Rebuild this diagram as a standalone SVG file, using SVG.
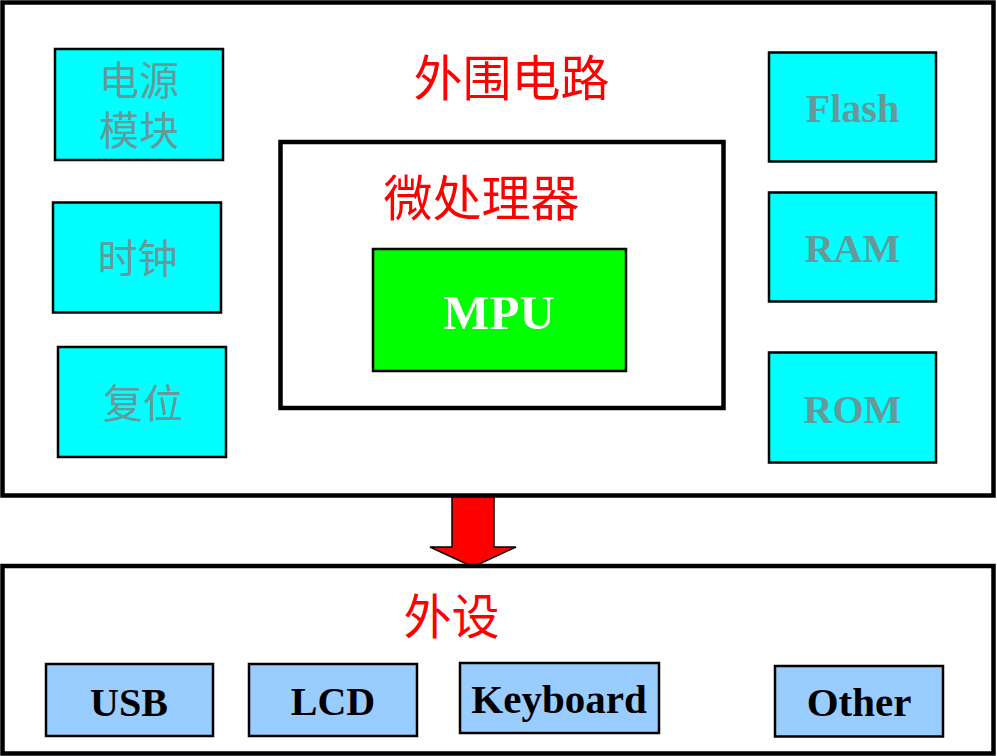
<svg xmlns="http://www.w3.org/2000/svg" width="997" height="756" viewBox="0 0 997 756">
<style>
.frame{fill:#fff;stroke:#000;stroke-width:4.5}
.cyan{fill:#00FFFF;stroke:#000;stroke-width:2.5}
.blue{fill:#99CCFF;stroke:#000;stroke-width:2.5}
.cn{font-family:"Noto Sans CJK SC","Noto Sans CJK JP",sans-serif;text-anchor:middle}
.gray{fill:#669999}
.red{fill:#FF0000}
.en{font-family:"Liberation Serif","Times New Roman",serif;font-weight:bold;text-anchor:middle}
</style>
<rect width="997" height="756" fill="#fff"/>
<g id="peripheral-circuit">
<rect class="frame" x="2.5" y="2.5" width="991" height="493"/>
<text class="cn red" x="511.5" y="96" font-size="49">外围电路</text>
</g>
<g id="power">
<rect class="cyan" x="55" y="49" width="168" height="111"/>
<text class="cn gray" font-size="40"><tspan x="139" y="95">电源</tspan><tspan x="139" y="145">模块</tspan></text>
</g>
<g id="clock">
<rect class="cyan" x="53" y="202.5" width="168" height="110"/>
<text class="cn gray" x="137.5" y="273" font-size="40">时钟</text>
</g>
<g id="reset">
<rect class="cyan" x="58" y="347" width="168" height="110"/>
<text class="cn gray" x="143" y="418" font-size="40">复位</text>
</g>
<g id="microprocessor">
<rect class="frame" x="280.5" y="142" width="443" height="266"/>
<text class="cn red" x="481.5" y="216" font-size="49">微处理器</text>
</g>
<g id="mpu">
<rect x="373" y="249" width="253" height="122" fill="#00FF00" stroke="#000" stroke-width="2.5"/>
<text class="en" x="499" y="329" font-size="49" fill="#fff">MPU</text>
</g>
<g id="flash">
<rect class="cyan" x="769" y="52.5" width="167" height="109"/>
<text class="en gray" x="852.5" y="122" font-size="40">Flash</text>
</g>
<g id="ram">
<rect class="cyan" x="769" y="192.5" width="167" height="109"/>
<text class="en gray" x="852.5" y="262" font-size="40">RAM</text>
</g>
<g id="rom">
<rect class="cyan" x="769" y="352.5" width="167" height="110"/>
<text class="en gray" x="852.5" y="423" font-size="40">ROM</text>
</g>
<g id="connectors">
<polygon points="452,497 494,497 494,547 516,547 473,567 430,547 452,547" fill="#FF0000" stroke="#000" stroke-width="1.5"/>
</g>
<g id="peripherals">
<rect class="frame" x="2.5" y="566" width="991" height="187.5" stroke-width="5"/>
<text class="cn red" x="451.5" y="634" font-size="48">外设</text>
</g>
<g id="usb">
<rect class="blue" x="46" y="664" width="167" height="72"/>
<text class="en" x="129" y="716" font-size="40">USB</text>
</g>
<g id="lcd">
<rect class="blue" x="249" y="664" width="168" height="72"/>
<text class="en" x="333" y="715" font-size="40">LCD</text>
</g>
<g id="keyboard">
<rect class="blue" x="460" y="663" width="199" height="70"/>
<text class="en" x="559" y="713" font-size="41">Keyboard</text>
</g>
<g id="other">
<rect class="blue" x="775" y="666" width="168" height="70.5"/>
<text class="en" x="859" y="715.5" font-size="41">Other</text>
</g>
</svg>
